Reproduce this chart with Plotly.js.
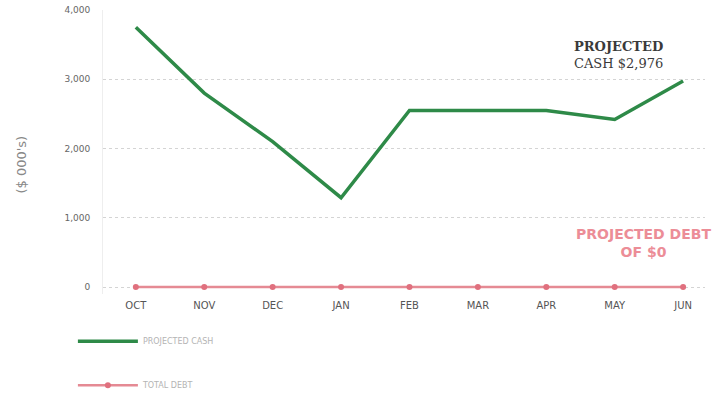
<!DOCTYPE html>
<html>
<head>
<meta charset="utf-8">
<script src="https://cdn.plot.ly/plotly-3.0.1.min.js"></script>
<style>
  html, body { margin: 0; padding: 0; background: #fff; }
  #chart { width: 712px; height: 398px; }
</style>
</head>
<body>
<div id="chart"></div>
<script>
// Monthly cash and debt projection ($ 000's)
const months = ['OCT', 'NOV', 'DEC', 'JAN', 'FEB', 'MAR', 'APR', 'MAY', 'JUN'];
const cashValues = [3750, 2800, 2100, 1290, 2550, 2550, 2550, 2420, 2976];
const debtValues = [0, 0, 0, 0, 0, 0, 0, 0, 0];
const yTickValues = [0, 1000, 2000, 3000, 4000];
const yTickLabels = ['0', '1,000', '2,000', '3,000', '4,000'];
const seriesNames = ['PROJECTED CASH', 'TOTAL DEBT'];
const unitLabel = "($ 000's)";

const lastCash = cashValues[cashValues.length - 1];
const lastDebt = debtValues[debtValues.length - 1];

const traces = [
  {
    x: months, y: cashValues, name: seriesNames[0], legendgroup: 'cash',
    type: 'scatter', mode: 'lines',
    line: { color: '#2e8a48', width: 3.5 }
  },
  {
    x: months, y: debtValues, name: seriesNames[1], legendgroup: 'debt',
    type: 'scatter', mode: 'lines+markers',
    line: { color: '#e58a94', width: 2.5 },
    marker: { color: '#e0707e', size: 6 }
  }
];

const layout = {
  width: 712, height: 398,
  margin: { l: 103, r: 7, t: 10, b: 104, autoexpand: false },
  paper_bgcolor: '#ffffff', plot_bgcolor: '#ffffff',
  font: { family: 'DejaVu Sans, sans-serif', color: '#666' },
  showlegend: true,
  legend: {
    x: -0.05, y: -0.115, xanchor: 'left', yanchor: 'top',
    orientation: 'v', tracegroupgap: 25,
    font: { size: 8, color: '#b4b4b4' },
    itemwidth: 60
  },
  xaxis: {
    type: 'category', range: [-0.48, 8.32],
    showgrid: false, zeroline: false, showline: false,
    ticks: '', ticklabelstandoff: 4,
    tickfont: { size: 10, color: '#555' }
  },
  yaxis: {
    range: [-100, 4000],
    tickvals: yTickValues, ticktext: yTickLabels,
    tickfont: { size: 9, color: '#666' },
    showgrid: true, gridcolor: '#d4d4d4', griddash: 'dot', gridwidth: 1,
    zeroline: false, showline: true, linecolor: '#eeeeee',
    ticks: '', ticklabelstandoff: 10
  },
  annotations: [
    {
      xref: 'paper', yref: 'paper', x: -0.135, y: 0.455,
      xanchor: 'center', yanchor: 'middle',
      text: unitLabel, textangle: -90, showarrow: false,
      font: { size: 13, color: '#888' }
    },
    {
      xref: 'x', yref: 'y', x: 7.05, y: 3350,
      text: '<b>PROJECTED</b><br>CASH $' + lastCash.toLocaleString('en-US'),
      showarrow: false, align: 'center',
      font: { size: 13, color: '#3a3a3a', family: 'DejaVu Serif, serif' }
    },
    {
      xref: 'x', yref: 'y', x: 7.42, y: 640,
      text: '<b>PROJECTED DEBT<br>OF $' + lastDebt + '</b>',
      showarrow: false, align: 'center',
      font: { size: 14, color: '#ec8d97', family: 'DejaVu Sans, sans-serif' }
    }
  ]
};

Plotly.newPlot('chart', traces, layout, { displayModeBar: false, staticPlot: true });
</script>
</body>
</html>
